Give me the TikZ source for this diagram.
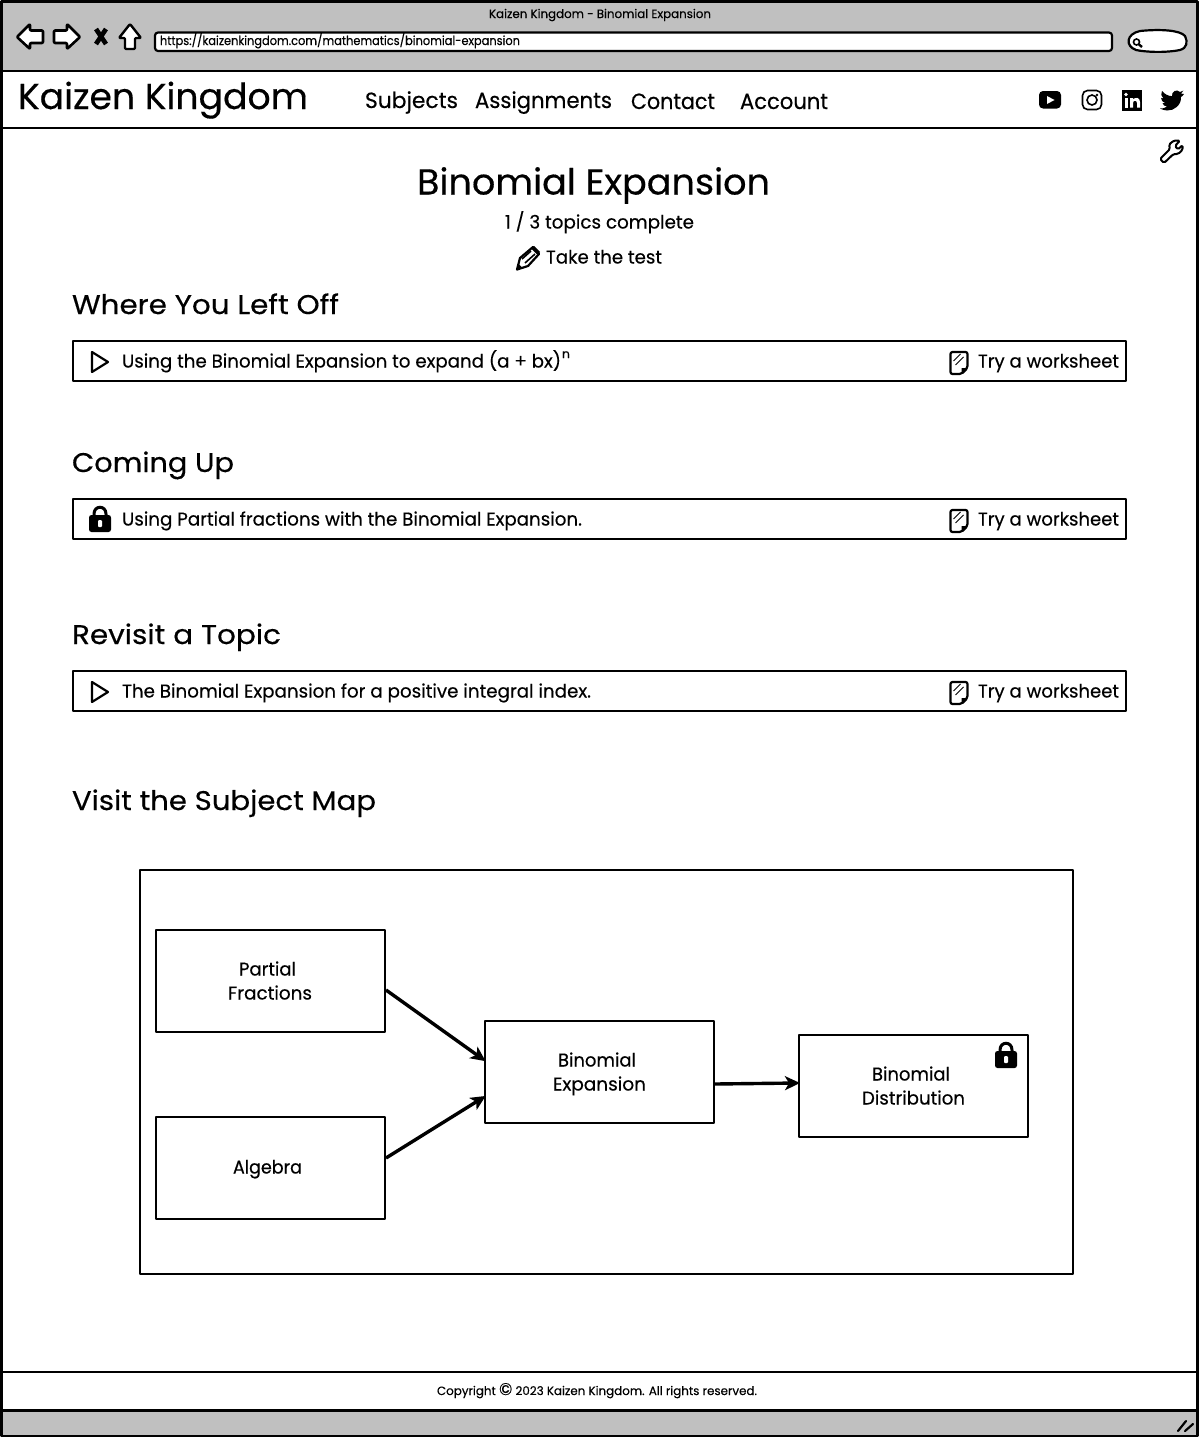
\documentclass[tikz,border=0pt]{standalone}
\usepackage{fontspec}
\usepackage{graphicx}
\setmainfont{Poppins}[RawFeature={embolden=0.35}]
\usetikzlibrary{arrows.meta,calc}
\newcommand{\FT}[3]{\resizebox{#1pt}{\height}{\fontsize{#2pt}{#2pt}\selectfont #3}}
\definecolor{chrome}{HTML}{C0C0C0}
\tikzset{
  line/.style={draw=black,line width=2.2pt,line join=round,line cap=round},
  thinl/.style={draw=black,line width=2pt,line join=round,line cap=round},
  lab/.style={inner sep=0pt,outer sep=0pt,anchor=base west},
  rowbox/.style={line,fill=white,minimum width=1053pt,minimum height=40pt,inner sep=0pt},
  mapbox/.style={thinl,fill=white,minimum width=229pt,minimum height=102pt,inner sep=0pt,align=center},
  link/.style={draw=black,line width=3.4pt,shorten >=-2pt,-{Stealth[length=15pt,width=14pt,inset=4pt]}},
  lockicon/.pic={
    \draw[black,line width=3pt] (-6,-3) -- (-6,-6) .. controls (-6,-15) and (6,-15) .. (6,-6) -- (6,-3);
    \fill[black,rounded corners=2.5pt] (-11,-5) rectangle (11,12);
    \fill[white,rounded corners=1pt] (-2,0) rectangle (2,7);
  },
  playicon/.pic={\draw[line] (-8,-10) -- (8,0) -- (-8,10) -- cycle;},
  sheeticon/.pic={
    \draw[line,rounded corners=2pt,fill=white] (-8,-10) -- (9,-10) -- (9,6) -- (3,12) -- (-8,12) -- cycle;
    \fill[black] (9,6) -- (3,12) -- (3,6) -- cycle;
    \draw[black,line width=1pt] (-5,-1) -- (2,-8) (-3,3) -- (5,-5);
  },
}
\begin{document}
\begin{tikzpicture}[x=1pt,y=-1pt]
\useasboundingbox (0,0) rectangle (1200,1438);
% window
\fill[white] (0,0) rectangle (1200,1438);
\fill[chrome] (2,2) rectangle (1197,71);
\fill[chrome] (2,1410) rectangle (1197,1436);
\draw[line] (1.5,1.5) rectangle (1197.5,1436);
\draw[line] (1.5,71) -- (1197.5,71);
\draw[line] (1.5,128) -- (1197.5,128);
\draw[line] (1.5,1372) -- (1197.5,1372);
\draw[line,line width=2.4pt] (1.5,1410.5) -- (1197.5,1410.5);
% toolbar
\node[lab] (wintitle) at (489,18) {\FT{222}{12}{Kaizen Kingdom - Binomial Expansion}};
\draw[line,line width=2.6pt,fill=white,rounded corners=1pt] (17,37) -- (30,24) -- (30,30.5) -- (43,30.5) -- (43,43) -- (30,43) -- (30,49) -- cycle;
\draw[line,line width=2.6pt,fill=white,rounded corners=1pt] (80,37) -- (67,24) -- (67,30.5) -- (54,30.5) -- (54,43) -- (67,43) -- (67,49) -- cycle;
\draw[black,line width=4.6pt] (96,29) -- (106,44) (106,29) -- (96,44);
\draw[line,line width=2.4pt,fill=white,rounded corners=1pt] (130,24) -- (141,38) -- (135,38) -- (135,49) -- (125,49) -- (125,38) -- (119,38) -- cycle;
\draw[line,rounded corners=3pt,fill=white] (155,32.5) rectangle (1112,51);
\node[lab] (url) at (160,45) {\FT{360}{12.5}{https://kaizenkingdom.com/mathematics/binomial-expansion}};
\draw[line,fill=white] (1140,31) .. controls (1160,29) and (1180,30) .. (1185,36) .. controls (1188,42) and (1187,48) .. (1180,50) .. controls (1165,53) and (1145,52) .. (1136,50) .. controls (1125,46) and (1126,34) .. (1140,31) -- cycle;
\draw[black,line width=1.6pt] (1136.5,42) circle[radius=3pt];
\draw[black,line width=2.4pt] (1139,44.5) -- (1142,47);
% nav
\node[lab] (brand) at (18,109) {\FT{290}{36}{Kaizen Kingdom}};
\node[lab] (nav1) at (365,108) {\FT{93}{22}{Subjects}};
\node[lab] (nav2) at (475,108) {\FT{137}{22}{Assignments}};
\node[lab] (nav3) at (631,109) {\FT{84}{22}{Contact}};
\node[lab] (nav4) at (740,109) {\FT{88}{22}{Account}};
% youtube
\fill[black,rounded corners=4pt] (1039,91) rectangle (1061,108.5);
\fill[white] (1047,96) -- (1054.5,100) -- (1047,104) -- cycle;
% instagram
\draw[black,line width=1.6pt,rounded corners=5pt] (1082.5,90.5) rectangle (1101.5,109.5);
\draw[black,line width=1.6pt] (1092,100) circle[radius=5pt];
\fill[black] (1097,95) circle[radius=1.3pt];
% linkedin
\fill[black] (1122,90) rectangle (1142,110.5);
\fill[white] (1124.5,98) rectangle (1127.5,107.5);
\fill[white] (1126,94.5) circle[radius=1.9pt];
\fill[white] (1130,98) -- (1133,98) -- (1133,99.5) .. controls (1135,97) and (1140,97) .. (1140,102) -- (1140,107.5) -- (1137,107.5) -- (1137,103) .. controls (1137,100) and (1133,100) .. (1133,103) -- (1133,107.5) -- (1130,107.5) -- cycle;
% twitter
\fill[black] (1184,94) .. controls (1183,95.5) and (1182,96.5) .. (1181,97) .. controls (1181.5,105) and (1174,111) .. (1167,110.5) .. controls (1164.5,110.5) and (1162,109.5) .. (1160,108.5) .. controls (1163,108.8) and (1165,108) .. (1167,106.5) .. controls (1164.5,106.5) and (1163,105) .. (1162.5,103) .. controls (1163.5,103.2) and (1164,103.2) .. (1165,103) .. controls (1162.5,102.2) and (1161,100) .. (1161,97.8) .. controls (1162,98.2) and (1162.8,98.5) .. (1163.5,98.5) .. controls (1161,96.5) and (1160.5,93.5) .. (1162,91) .. controls (1164.5,94) and (1168,96) .. (1172,96.2) .. controls (1171.2,91.5) and (1177,88.5) .. (1180,92) .. controls (1181.2,91.7) and (1182.4,91.2) .. (1183.4,90.6) .. controls (1183,92) and (1182,93) .. (1181,93.6) .. controls (1182,93.6) and (1183,93.4) .. (1184,94) -- cycle;
% wrench
\draw[thinl,rounded corners=1.5pt,fill=white] (1160,159) -- (1170,149) -- (1169,144.5) -- (1174,140.5) -- (1180,140.5) -- (1175,146) -- (1178,149.5) -- (1182.5,145) -- (1182.5,150) -- (1178,154) -- (1173.5,154) -- (1164,163) -- cycle;
% title area
\node[lab] (title) at (417,194.5) {\FT{353}{36}{Binomial Expansion}};
\node[lab] (progress) at (505,228.5) {\FT{189}{18.5}{1 / 3 topics complete}};
\node[lab] (taketest) at (546,263.5) {\FT{116}{18.5}{Take the test}};
% pencil
\draw[line,fill=white] (517,269.5) -- (520,258) -- (533,247) -- (539,254) -- (528,266) -- cycle;
\fill[black] (531,248.5) -- (534,246) -- (540,252) -- (537.5,255) -- cycle;
\fill[black] (517,269.5) -- (518.5,264) -- (522.5,268) -- cycle;
\draw[black,line width=1.6pt] (522,259) -- (531,251) (525,263) -- (535,254);
% sections
\node[lab] (h1) at (72,314) {\FT{267}{27}{Where You Left Off}};
\node[lab] (h2) at (72,472) {\FT{162}{27}{Coming Up}};
\node[lab] (h3) at (72,644) {\FT{209}{27}{Revisit a Topic}};
\node[lab] (h4) at (72,810) {\FT{304}{27}{Visit the Subject Map}};
% rows
\node[rowbox] (row1) at (599.5,361) {};
\node[rowbox] (row2) at (599.5,519) {};
\node[rowbox] (row3) at (599.5,691) {};
\pic at (100,362) {playicon};
\pic at (100,520) {lockicon};
\pic at (100,692) {playicon};
\node[lab] (r1) at (122,367.5) {\FT{439}{18.5}{Using the Binomial Expansion to expand (a + bx)}};
\node[lab] (r1n) at (562,358) {\FT{8}{12}{n}};
\node[lab] (r2) at (122,525.5) {\FT{460}{18.5}{Using Partial fractions with the Binomial Expansion.}};
\node[lab] (r3) at (122,697.5) {\FT{469}{18.5}{The Binomial Expansion for a positive integral index.}};
\pic at (958.5,362) {sheeticon};
\pic at (958.5,520) {sheeticon};
\pic at (958.5,692) {sheeticon};
\node[lab] (w1) at (978,367.5) {\FT{141}{18.5}{Try a worksheet}};
\node[lab] (w2) at (978,525.5) {\FT{141}{18.5}{Try a worksheet}};
\node[lab] (w3) at (978,697.5) {\FT{141}{18.5}{Try a worksheet}};
% subject map
\node[thinl,fill=white,minimum width=933pt,minimum height=404pt,inner sep=0pt] (map) at (606.5,1071.5) {};
\node[mapbox] (partial) at (270.5,981) {};
\node[mapbox] (algebra) at (270.5,1167.5) {};
\node[mapbox] (binomial) at (599.5,1071.5) {};
\node[mapbox] (distrib) at (913.5,1086) {};
\node[lab] (t1) at (239,975.5) {\FT{57}{18.5}{Partial}};
\node[lab] (t2) at (228,999.5) {\FT{84}{18.5}{Fractions}};
\node[lab] (t3) at (233,1173.5) {\FT{69}{18.5}{Algebra}};
\node[lab] (t4) at (558,1066.5) {\FT{78}{18.5}{Binomial}};
\node[lab] (t5) at (553,1090.5) {\FT{93}{18.5}{Expansion}};
\node[lab] (t6) at (872,1080.5) {\FT{78}{18.5}{Binomial}};
\node[lab] (t7) at (862,1104.5) {\FT{103}{18.5}{Distribution}};
\pic at (1006,1056) {lockicon};
\draw[link] ([yshift=-9pt]partial.east) -- ([yshift=11.5pt]binomial.west);
\draw[link] ([yshift=9.5pt]algebra.east) -- ([yshift=-25.5pt]binomial.west);
\draw[link] ([yshift=-12.5pt]binomial.east) -- ([yshift=3pt]distrib.west);
% footer
\node[lab] (foot) at (437,1395) {\FT{320}{12}{Copyright {\fontsize{17pt}{17pt}\selectfont ©} 2023 Kaizen Kingdom. All rights reserved.}};
\draw[black,line width=2.2pt,line cap=round] (1178,1431) -- (1186,1421) (1185,1431) -- (1193,1424);
\end{tikzpicture}
\end{document}
